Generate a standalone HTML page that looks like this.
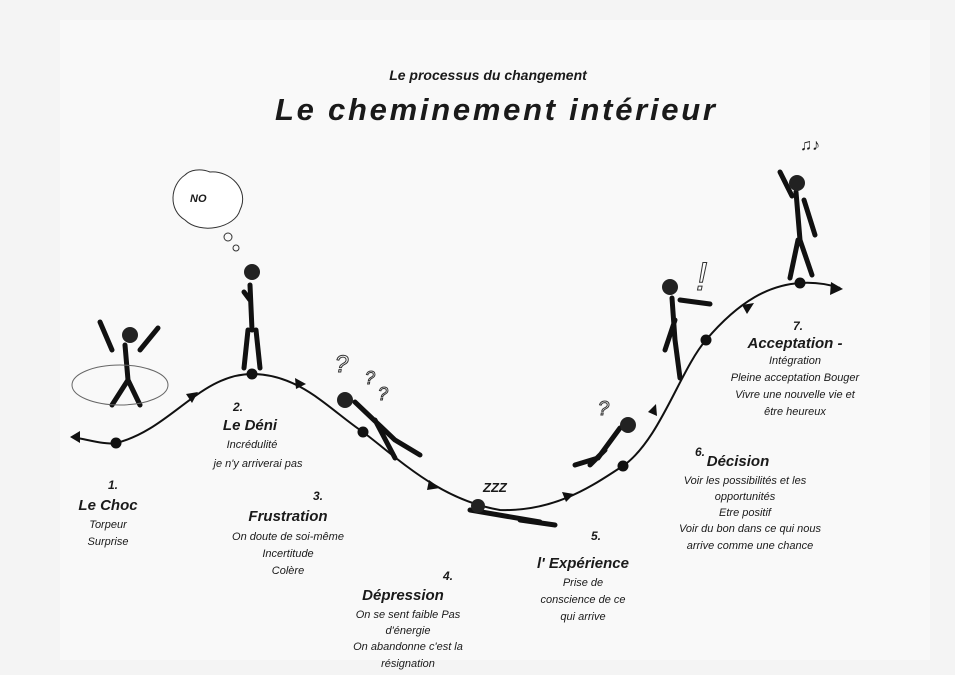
<!DOCTYPE html>
<html><head><meta charset="utf-8"><style>
html,body{margin:0;padding:0;background:#f5f5f5;}
svg{display:block}
text{font-family:"Liberation Sans",sans-serif;fill:#1a1a1a;font-style:italic;}
.t{font-size:11px;}
.h{font-size:15px;font-weight:bold;}
.n{font-size:12px;font-weight:bold;}
</style></head><body>
<svg width="955" height="675" viewBox="0 0 955 675">
<rect x="0" y="0" width="955" height="675" fill="#f4f4f4"/>
<rect x="60" y="20" width="870" height="640" fill="#f9f9f9"/>
<text x="488" y="80" text-anchor="middle" style="font-size:14px;font-weight:bold">Le processus du changement</text>
<text x="495" y="120" text-anchor="middle" textLength="440" style="font-size:31px;font-weight:bold">Le cheminement intérieur</text>
<path d="M72,437 C90,440 105,445 116,443 C170,430 200,374 252,374 C300,374 330,410 363,432 C400,460 440,500 500,510 C560,512 600,480 623,466 C660,440 680,370 706,340 C740,300 770,285 800,283 C815,282 828,284 840,288" fill="none" stroke="#111" stroke-width="2"/>
<polygon points="70,437 80,431 80,443" fill="#111"/>
<polygon points="843,289 831,282 830,295" fill="#111"/>
<g fill="#111">
<polygon points="198,392 186,394 192,403"/>
<polygon points="306,384 295,378 296,389"/>
<polygon points="440,488 429,480 427,490"/>
<polygon points="574,494 562,492 566,502"/>
<polygon points="656,404 648,412 657,416"/>
<polygon points="754,303 742,305 747,314"/>
<circle cx="116" cy="443" r="5.5"/><circle cx="252" cy="374" r="5.5"/><circle cx="363" cy="432" r="5.5"/>
<circle cx="623" cy="466" r="5.5"/><circle cx="706" cy="340" r="5.5"/><circle cx="800" cy="283" r="5.5"/>
</g>
<g stroke="#111" stroke-width="5" stroke-linecap="round" fill="none">
<path d="M125,345 L128,380 M128,380 L112,405 M128,380 L140,405 M112,350 L100,322 M140,350 L158,328"/>
<path d="M250,285 L252,330 M248,330 L244,368 M256,330 L260,368 M244,292 L250,300"/>
<path d="M355,402 L395,440 M395,440 L420,455 M375,420 L395,458"/>
<path d="M470,510 L540,522 M520,520 L555,525"/>
<path d="M620,428 L598,458 L575,465 M605,450 L590,465"/>
<path d="M672,298 L675,340 L680,378 M675,320 L665,350 M680,300 L710,304"/>
<path d="M796,192 L800,240 M798,240 L790,278 M800,240 L812,275 M792,196 L780,172 M804,200 L815,235"/>
</g>
<g fill="#222"><circle cx="130" cy="335" r="8"/><circle cx="252" cy="272" r="8"/><circle cx="345" cy="400" r="8"/><circle cx="478" cy="506" r="7"/><circle cx="628" cy="425" r="8"/><circle cx="670" cy="287" r="8"/><circle cx="797" cy="183" r="8"/></g>
<ellipse cx="120" cy="385" rx="48" ry="20" fill="none" stroke="#666" stroke-width="1"/>
<path d="M185,175 C170,185 168,210 185,220 C200,235 235,228 240,210 C250,190 230,170 210,172 C200,168 190,170 185,175 Z" fill="#fff" stroke="#333"/>
<text x="190" y="202" style="font-size:11px;font-weight:bold">NO</text>
<circle cx="228" cy="237" r="4" fill="none" stroke="#333"/><circle cx="236" cy="248" r="3" fill="none" stroke="#333"/>
<text x="335" y="372" style="font-size:24px;fill:#fff;stroke:#333">?</text>
<text x="365" y="384" style="font-size:18px;fill:#fff;stroke:#333">?</text>
<text x="378" y="400" style="font-size:18px;fill:#fff;stroke:#333">?</text>
<text x="598" y="415" style="font-size:20px;fill:#fff;stroke:#333">?</text>
<text x="696" y="290" style="font-size:40px;fill:#fff;stroke:#333">!</text>
<text x="483" y="492" style="font-size:13px;font-weight:bold">ZZZ</text>
<text x="800" y="150" style="font-size:16px">♫♪</text>
<g text-anchor="middle">
<text class="n" x="113" y="489">1.</text><text class="h" x="108" y="510">Le Choc</text>
<text class="t" x="108" y="528">Torpeur</text><text class="t" x="108" y="545">Surprise</text>
<text class="n" x="238" y="411">2.</text><text class="h" x="250" y="430">Le Déni</text>
<text class="t" x="252" y="448">Incrédulité</text><text class="t" x="258" y="467">je n'y arriverai pas</text>
<text class="n" x="318" y="500">3.</text><text class="h" x="288" y="521">Frustration</text>
<text class="t" x="288" y="540">On doute de soi-même</text><text class="t" x="288" y="557">Incertitude</text><text class="t" x="288" y="574">Colère</text>
<text class="n" x="448" y="580">4.</text><text class="h" x="403" y="600">Dépression</text>
<text class="t" x="408" y="618">On se sent faible Pas</text><text class="t" x="408" y="634">d'énergie</text>
<text class="t" x="408" y="650">On abandonne c'est la</text><text class="t" x="408" y="667">résignation</text>
<text class="n" x="596" y="540">5.</text><text class="h" x="583" y="568">l' Expérience</text>
<text class="t" x="583" y="586">Prise de</text><text class="t" x="583" y="603">conscience de ce</text><text class="t" x="583" y="620">qui arrive</text>
<text class="n" x="700" y="456">6.</text><text class="h" x="738" y="466">Décision</text>
<text class="t" x="745" y="484">Voir les possibilités et les</text><text class="t" x="745" y="500">opportunités</text>
<text class="t" x="745" y="516">Etre positif</text><text class="t" x="750" y="532">Voir du bon dans ce qui nous</text><text class="t" x="750" y="549">arrive comme une chance</text>
<text class="n" x="798" y="330">7.</text><text class="h" x="795" y="348">Acceptation -</text>
<text class="t" x="795" y="364">Intégration</text><text class="t" x="795" y="381">Pleine acceptation Bouger</text>
<text class="t" x="795" y="398">Vivre une nouvelle vie et</text><text class="t" x="795" y="415">être heureux</text>
</g>
</svg>
</body></html>
